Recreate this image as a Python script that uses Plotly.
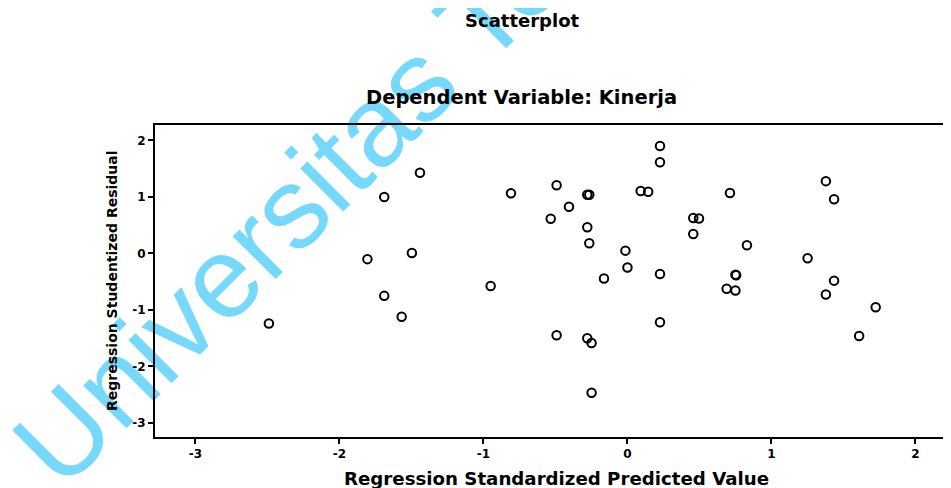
import plotly.graph_objects as go

# Regression Standardized Predicted Value (x) vs Regression Studentized Residual (y)
pred = [-2.49, -1.806, -1.689, -1.689, -1.568, -1.497, -1.441, -0.95, -0.809, -0.533,
        -0.492, -0.492, -0.406, -0.279, -0.265, -0.279, -0.265, -0.279, -0.249, -0.249,
        -0.163, -0.014, 0.00, 0.092, 0.144, 0.226, 0.226, 0.226, 0.226, 0.457,
        0.497, 0.457, 0.712, 0.75, 0.755, 0.689, 0.75, 0.83, 1.251, 1.378,
        1.435, 1.435, 1.378, 1.724, 1.609]
resid = [-1.24, -0.10, 1.00, -0.75, -1.12, 0.01, 1.43, -0.575, 1.065, 0.616,
         1.207, -1.448, 0.828, 1.041, 1.041, 0.464, 0.18, -1.50, -1.584, -2.464,
         -0.442, 0.05, -0.248, 1.106, 1.094, 1.903, 1.614, -0.363, -1.216, 0.628,
         0.619, 0.345, 1.071, -0.377, -0.385, -0.623, -0.655, 0.147, -0.083, 1.28,
         0.961, -0.481, -0.726, -0.952, -1.46]

tick_vals = [-3, -2, -1, 0, 1, 2]
tick_text = ["-3", "-2", "-1", "0", "1", "2"]

title_text = "Scatterplot"
subtitle_text = "Dependent Variable: Kinerja"
x_title = "Regression Standardized Predicted Value"
y_title = "Regression Studentized Residual"
watermark = "Universitas Terbuka"

W, H = 951, 488
OFF = 8  # page body margin: figure starts 8px in from the window corner
# plot area in window pixels: left 155, right 951, top 125, bottom 437
ML, MT = 155 - OFF, 125 - OFF
MR = W - (951 - OFF)
MB = H - (437 - OFF)


def px(x):
    return (x - OFF - ML) / (W - ML - MR)


def py(y):
    return (H - MB - (y - OFF)) / (H - MT - MB)


FONT = "DejaVu Sans"

fig = go.Figure()
fig.add_trace(go.Scatter(
    x=pred, y=resid, mode="markers",
    marker=dict(symbol="circle-open", size=8.5, color="black", line=dict(width=2, color="black")),
    showlegend=False, hoverinfo="skip"))

axis_common = dict(
    showgrid=False, zeroline=False, showline=True, linecolor="black", linewidth=2,
    ticks="outside", ticklen=5, tickwidth=2, tickcolor="black",
    tickvals=tick_vals, ticktext=tick_text,
    tickfont=dict(family=FONT, size=12, color="black", weight="bold"),
)

fig.update_layout(
    width=W, height=H,
    margin=dict(l=ML, r=MR, t=MT, b=MB),
    paper_bgcolor="white", plot_bgcolor="white",
    xaxis=dict(range=[-3.281, 2.247], mirror=True, **axis_common),
    yaxis=dict(range=[-3.248, 2.274], mirror=False, **axis_common),
    font=dict(family=FONT, color="black"),
)

ann = [
    dict(text=title_text, x=px(522), y=py(20), font=dict(size=18, weight="bold")),
    dict(text=subtitle_text, x=px(521), y=py(97), font=dict(size=19.5, weight="bold")),
    dict(text=x_title, x=px(556), y=py(478), font=dict(size=18.2, weight="bold")),
    dict(text=y_title, x=px(112), y=py(281), textangle=-90, font=dict(size=14, weight="bold")),
]
for a in ann:
    a.update(xref="paper", yref="paper", showarrow=False, xanchor="center", yanchor="middle")
    a["font"].update(family=FONT, color="black")
fig.update_layout(annotations=ann)

# watermark, drawn beneath the chart
fig.add_shape(
    type="line", xref="paper", yref="paper",
    x0=px(66), y0=py(510), x1=px(789), y1=py(-213),
    line=dict(color="rgba(0,0,0,0)", width=0),
    layer="below",
    label=dict(text=watermark, textposition="middle", textangle=-45,
               font=dict(family="Liberation Sans", size=115, color="rgb(118,216,250)")),
)

fig.write_html("out.html")
